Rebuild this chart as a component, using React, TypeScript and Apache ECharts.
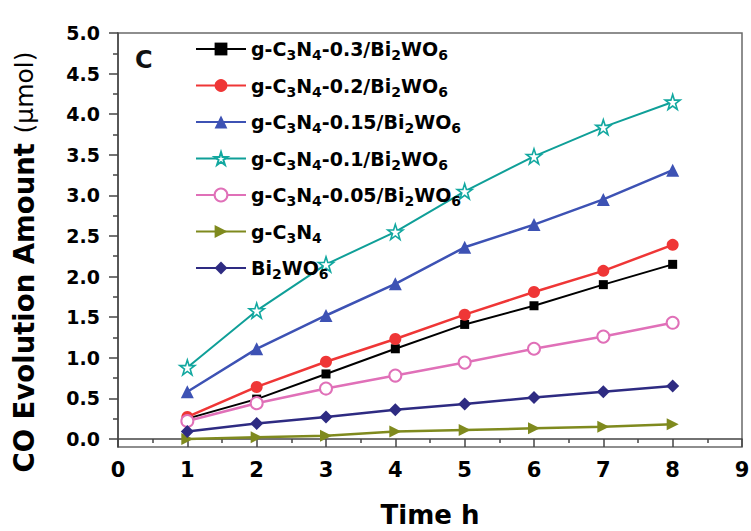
import React, { useEffect, useRef } from "react";
import * as echarts from "echarts";

// Irradiation time (h)
const hours = [1, 2, 3, 4, 5, 6, 7, 8];

// CO evolution amount (μmol) for each photocatalyst
const gcn03 = [0.25, 0.49, 0.8, 1.11, 1.41, 1.64, 1.9, 2.15];
const gcn02 = [0.27, 0.64, 0.95, 1.23, 1.53, 1.81, 2.07, 2.39];
const gcn015 = [0.58, 1.11, 1.52, 1.91, 2.36, 2.64, 2.95, 3.31];
const gcn01 = [0.88, 1.58, 2.15, 2.55, 3.05, 3.48, 3.84, 4.15];
const gcn005 = [0.22, 0.44, 0.62, 0.78, 0.94, 1.11, 1.26, 1.43];
const gcnPure = [0.0, 0.02, 0.04, 0.09, 0.11, 0.13, 0.15, 0.18];
const bwoPure = [0.09, 0.19, 0.27, 0.36, 0.43, 0.51, 0.58, 0.65];

const seriesNames = [
  "g-C3N4-0.3/Bi2WO6",
  "g-C3N4-0.2/Bi2WO6",
  "g-C3N4-0.15/Bi2WO6",
  "g-C3N4-0.1/Bi2WO6",
  "g-C3N4-0.05/Bi2WO6",
  "g-C3N4",
  "Bi2WO6",
];

// Axis tick values
const yMajorTicks = [0, 0.5, 1, 1.5, 2, 2.5, 3, 3.5, 4, 4.5, 5];
const yMinorTicks = [0.25, 0.75, 1.25, 1.75, 2.25, 2.75, 3.25, 3.75, 4.25, 4.75];

const FONT = "DejaVu Sans";
const STAR = "path://M50,2 L61,36 L97,36 L68,57 L79,92 L50,71 L21,92 L32,57 L3,36 L39,36 Z";
const RIGHT_TRI = "path://M0,0 L100,50 L0,100 Z";

// Chemical formula digits become subscripts in the legend.
function richFormula(name: string): string {
  const s = "{m|" + name.replace(/([A-Za-z])(\d)/g, "$1}{s|$2}{m|") + "}";
  return s.replace(/\{m\|\}/g, "");
}

export default function App() {
  const ref = useRef<HTMLDivElement>(null);

  useEffect(() => {
    if (!ref.current) return;
    const chart = echarts.init(ref.current, undefined, { renderer: "svg" });

    const mk = (
      name: string,
      values: number[],
      color: string,
      symbol: string,
      symbolSize: number,
      extra: any = {}
    ) => ({
      name,
      type: "line",
      data: hours.map((h, i) => [h, values[i]]),
      symbol,
      symbolSize,
      showSymbol: true,
      lineStyle: { color, width: 2.5 },
      itemStyle: { color },
      z: 3,
      ...extra,
    });

    chart.setOption({
      animation: false,
      backgroundColor: "#ffffff",
      grid: {
        left: 118,
        right: 9,
        top: 33,
        bottom: 84,
        show: true,
        borderColor: "#6a6a6a",
        borderWidth: 1.5,
        backgroundColor: "transparent",
        outerBoundsMode: "none",
        containLabel: false,
      },
      legend: {
        orient: "vertical",
        left: 190,
        top: 31,
        itemWidth: 50,
        itemHeight: 16,
        itemGap: 10.5,
        data: seriesNames,
        formatter: (n: string) => richFormula(n),
        textStyle: {
          color: "#000",
          fontFamily: FONT,
          fontWeight: "bold",
          fontSize: 19,
          lineHeight: 26,
          rich: {
            m: {
              fontFamily: FONT,
              fontWeight: "bold",
              fontSize: 19,
              lineHeight: 26,
              color: "#000",
            },
            s: {
              fontFamily: FONT,
              fontWeight: "bold",
              fontSize: 14,
              lineHeight: 12,
              verticalAlign: "bottom",
              color: "#000",
            },
          },
        },
      },
      xAxis: {
        type: "value",
        min: 0,
        max: 9,
        interval: 1,
        name: "Time h",
        nameLocation: "middle",
        nameGap: 55,
        nameTextStyle: {
          fontFamily: FONT,
          fontWeight: "bold",
          fontSize: 26,
          color: "#000",
        },
        axisLine: { show: true, lineStyle: { color: "#444", width: 1.5 } },
        axisTick: { show: true, inside: false, length: 8, lineStyle: { color: "#444", width: 1.5 } },
        minorTick: { show: true, splitNumber: 2, length: 4, lineStyle: { color: "#444", width: 1.5 } },
        axisLabel: {
          margin: 12,
          fontFamily: FONT,
          fontWeight: "bold",
          fontSize: 21,
          color: "#000",
        },
        splitLine: { show: false },
        minorSplitLine: { show: false },
      },
      yAxis: [
        {
          type: "value",
          min: -0.1,
          max: 5,
          name: "{b|CO Evolution Amount }{r|(μmol)}",
          nameLocation: "middle",
          nameGap: 80,
          nameRotate: 90,
          nameTextStyle: {
            padding: [0, 44, 0, 0],
            rich: {
              b: { fontFamily: FONT, fontWeight: "bold", fontSize: 27.5, color: "#000" },
              r: { fontFamily: FONT, fontWeight: "normal", fontSize: 25, color: "#000" },
            },
          },
          axisLine: { show: true, lineStyle: { color: "#444", width: 1.5 } },
          axisTick: {
            show: true,
            inside: false,
            length: 9,
            customValues: yMajorTicks,
            lineStyle: { color: "#444", width: 1.5 },
          },
          axisLabel: {
            margin: 18,
            customValues: yMajorTicks,
            formatter: (v: number) => v.toFixed(1),
            fontFamily: FONT,
            fontWeight: "bold",
            fontSize: 19,
            color: "#000",
          },
          splitLine: { show: false },
        },
        {
          // minor ticks between the labelled ones
          type: "value",
          position: "left",
          min: -0.1,
          max: 5,
          axisLine: { show: false },
          axisTick: {
            show: true,
            inside: false,
            length: 5,
            customValues: yMinorTicks,
            lineStyle: { color: "#444", width: 1.5 },
          },
          axisLabel: { show: false },
          splitLine: { show: false },
        },
      ],
      graphic: [
        {
          type: "text",
          left: 135,
          top: 48,
          style: {
            text: "C",
            fontFamily: FONT,
            fontWeight: "bold",
            fontSize: 24,
            fill: "#111",
          },
        },
      ],
      series: [
        mk(seriesNames[0], gcn03, "#000000", "rect", 9, { lineStyle: { color: "#000", width: 2 } }),
        mk(seriesNames[1], gcn02, "#ef3636", "circle", 12),
        mk(seriesNames[2], gcn015, "#3d52b4", "triangle", 13),
        mk(seriesNames[3], gcn01, "#0f9f98", STAR, 15, {
          lineStyle: { color: "#0f9f98", width: 2 },
          itemStyle: { color: "#ffffff", borderColor: "#12a8a0", borderWidth: 1.6 },
        }),
        mk(seriesNames[4], gcn005, "#e070b8", "circle", 12, {
          itemStyle: { color: "#ffffff", borderColor: "#e070b8", borderWidth: 2 },
        }),
        mk(seriesNames[5], gcnPure, "#7f8a1e", RIGHT_TRI, 12),
        mk(seriesNames[6], bwoPure, "#2e2b82", "diamond", 13),
      ],
    });

    return () => chart.dispose();
  }, []);

  return (
    <div
      ref={ref}
      style={{ position: "fixed", left: 0, top: 0, width: 751, height: 531, background: "#fff" }}
    />
  );
}
